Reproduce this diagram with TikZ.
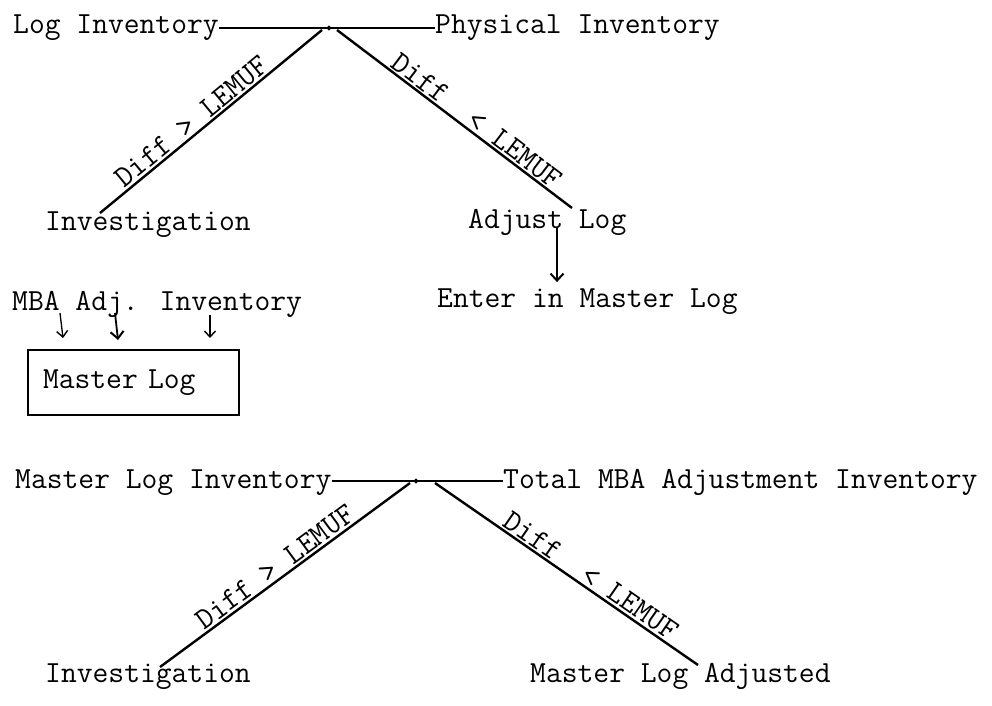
\documentclass[tikz,border=0pt]{standalone}
\usepackage{fontspec}
\usetikzlibrary{arrows.meta}
\begin{document}
\begin{tikzpicture}[x=1pt,y=-1pt,
  every node/.style={font=\fontsize{30.7}{36}\selectfont\ttfamily, inner sep=0pt},
  txt/.style={anchor=base west},
  wire/.style={line width=2pt},
  diag/.style={line width=2.4pt},
  lbl/.style={sloped, anchor=south, inner sep=1.5pt},
  junction/.style={circle, draw, line width=1pt, inner sep=1.4pt},
  down/.style={line width=1.8pt, -{Straight Barb[length=7pt,width=13pt,line width=2pt]}},
  downthin/.style={line width=1.3pt, -{Straight Barb[length=6pt,width=11pt,line width=1.4pt]}}
]
\useasboundingbox (0,0) rectangle (992,705);

% ---- first comparison: log against physical inventory ----
\node[txt] (logInv)  at (13,33)  {Log Inventory};
\node[txt] (physInv) at (435,33) {Physical Inventory};
\node[txt] (inv1)    at (45,230) {Investigation};
\node[txt] (adj)     at (468,228) {Adjust Log};
\node[txt] (enter)   at (437,307) {Enter in Master Log};

\coordinate (apex1) at (329,28);
\coordinate (v1l) at (322,30);
\coordinate (v1r) at (337,30);
\coordinate (e1l) at (100,213);
\coordinate (e1r) at (572,208);

\draw[wire] (logInv.east |- apex1) -- (apex1) -- (physInv.west |- apex1);
\node[junction] (j1) at (apex1) {};
\draw[diag] (e1l) -- node[lbl,pos=0.45] (lab1) {Diff > LEMUF} (v1l);
\draw[diag] (v1r) -- node[lbl,pos=0.565] (lab2) {Diff\ \ < LEMUF} (e1r);

\draw[down, shorten >=6pt] ([xshift=89pt]adj.base west) -- ([xshift=120pt]enter.north west);

% ---- MBA adjustments into the master log ----
\node[txt] (mba) at (12,310) {MBA Adj. Inventory};
\node[draw, line width=2pt, anchor=north west, minimum height=65pt,
      text width=181pt, inner xsep=15pt, align=left] (mlog) at (27,349) {Master Log};

\draw[downthin] ([xshift=48pt,yshift=-3pt]mba.base west) -- ([xshift=36pt,yshift=11pt]mlog.north west);
\draw[down]     ([xshift=103pt,yshift=-3pt]mba.base west) -- ([xshift=91pt,yshift=9pt]mlog.north west);
\draw[downthin] ([xshift=198pt,yshift=-5pt]mba.base west) -- ([xshift=183pt,yshift=11pt]mlog.north west);

% ---- second comparison: master log against total MBA adjustments ----
\node[txt] (mlInv) at (15,488)  {Master Log Inventory};
\node[txt] (tot)   at (503,488) {Total MBA Adjustment Inventory};
\node[txt] (inv2)  at (45,682)  {Investigation};
\node[txt] (mlAdj) at (530,682) {Master Log Adjusted};

\coordinate (apex2) at (416,481);
\coordinate (v2l) at (410,483);
\coordinate (v2r) at (435,483);
\coordinate (e2l) at (160,667);
\coordinate (e2r) at (698,665);

\draw[wire] (mlInv.east |- apex2) -- (apex2) -- (tot.west |- apex2);
\node[junction] (j2) at (apex2) {};
\draw[diag] (e2l) -- node[lbl,pos=0.49] (lab3) {Diff > LEMUF} (v2l);
\draw[diag] (v2r) -- node[lbl,pos=0.566] (lab4) {Diff\ \ < LEMUF} (e2r);
\end{tikzpicture}
\end{document}
